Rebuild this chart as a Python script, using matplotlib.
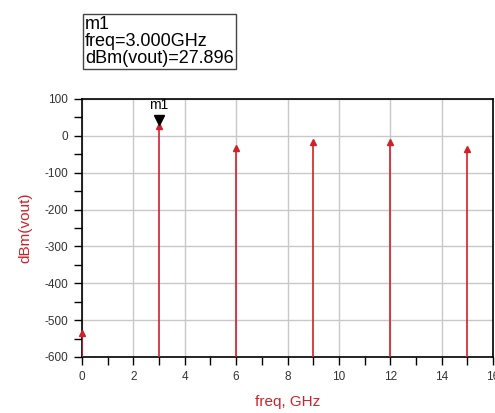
import matplotlib.pyplot as plt
from matplotlib.ticker import MultipleLocator

plt.rcParams['font.family'] = ['Liberation Sans', 'DejaVu Sans']
plt.rcParams['axes.unicode_minus'] = False

# harmonic spectrum
freq = [0, 3, 6, 9, 12, 15]
dbm = [-534, 27.896, -32, -16, -16, -35]

marker_freq = 3
marker_val = 27.896

red = "#d0202a"

fig = plt.figure(figsize=(4.95, 4.13), dpi=100)
ax = fig.add_axes([0.1657, 0.1356, 0.8303, 0.6247])

ax.vlines(freq, -600, dbm, color=red, lw=1.2, zorder=3)
ax.plot(freq, dbm, ls="none", marker="^", ms=5, color=red, zorder=4, clip_on=False)

# marker m1
ax.plot([marker_freq], [marker_val + 14], ls="none", marker="v", ms=7, color="black", zorder=5)
ax.text(marker_freq, marker_val + 38, "m1", ha="center", va="bottom", fontsize=10)

ax.set_xlim(0, 16)
ax.set_ylim(-600, 100)
ax.xaxis.set_major_locator(MultipleLocator(2))
ax.xaxis.set_minor_locator(MultipleLocator(1))
ax.yaxis.set_major_locator(MultipleLocator(100))
ax.yaxis.set_minor_locator(MultipleLocator(50))
ax.grid(True, which="major", color="#c8c8c8", lw=1)
ax.tick_params(which="both", direction="out", labelsize=8.5, labelcolor="#333333", pad=4)
ax.tick_params(which="major", length=6, width=1)
ax.tick_params(which="minor", length=6, width=1)
ax.tick_params(top=False, right=False)
for s in ax.spines.values():
    s.set_linewidth(1.2)

ax.set_xlabel("freq, GHz", color=red, fontsize=11, labelpad=9)
ax.set_ylabel("dBm(vout)", color=red, fontsize=11, labelpad=9)

fig.text(0.172, 0.9, "m1\nfreq=3.000GHz\ndBm(vout)=27.896", fontsize=13,
         ha="left", va="center", linespacing=1.0,
         bbox=dict(boxstyle="square,pad=0.12", fc="white", ec="#444444", lw=1))

fig.savefig("out.png", dpi=100)
